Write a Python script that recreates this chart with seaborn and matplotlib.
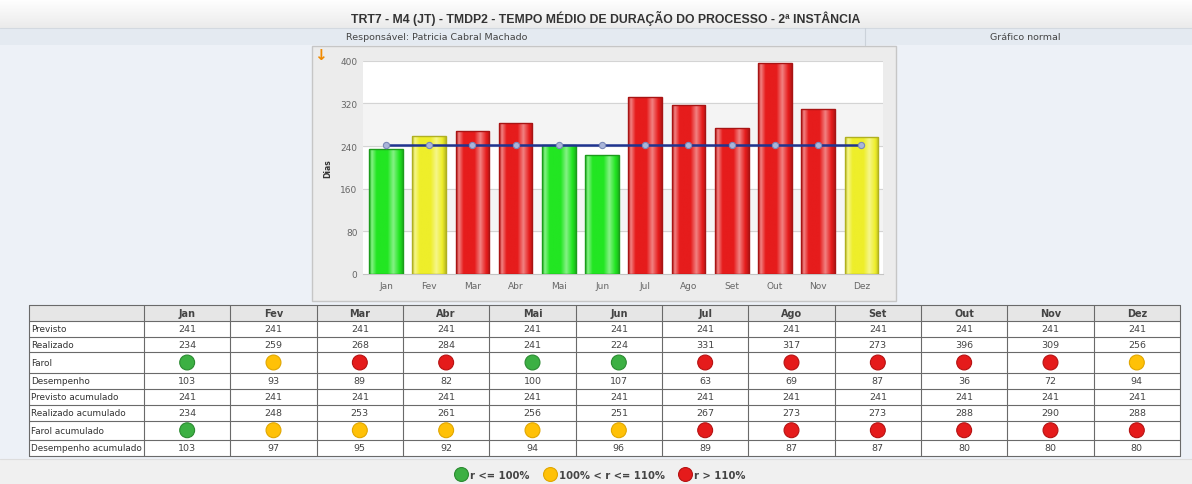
import numpy as np
import matplotlib
matplotlib.use("Agg")
import matplotlib.pyplot as plt
from matplotlib.colors import LinearSegmentedColormap, to_rgb
from matplotlib.patches import Rectangle
import seaborn as sns

meses = ["Jan", "Fev", "Mar", "Abr", "Mai", "Jun", "Jul", "Ago", "Set", "Out", "Nov", "Dez"]
previsto = [241, 241, 241, 241, 241, 241, 241, 241, 241, 241, 241, 241]
realizado = [234, 259, 268, 284, 241, 224, 331, 317, 273, 396, 309, 256]
farol = ["G", "Y", "R", "R", "G", "G", "R", "R", "R", "R", "R", "Y"]
desempenho = [103, 93, 89, 82, 100, 107, 63, 69, 87, 36, 72, 94]
previsto_acum = [241, 241, 241, 241, 241, 241, 241, 241, 241, 241, 241, 241]
realizado_acum = [234, 248, 253, 261, 256, 251, 267, 273, 273, 288, 290, 288]
farol_acum = ["G", "Y", "Y", "Y", "Y", "Y", "R", "R", "R", "R", "R", "R"]
desempenho_acum = [103, 97, 95, 92, 94, 96, 89, 87, 87, 80, 80, 80]
y_ticks = [0, 80, 160, 240, 320, 400]

titulo = "TRT7 - M4 (JT) - TMDP2 - TEMPO MÉDIO DE DURAÇÃO DO PROCESSO - 2ª INSTÂNCIA"
responsavel = "Responsável: Patricia Cabral Machado"
tipo_grafico = "Gráfico normal"
legenda = [("G", "r <= 100%"), ("Y", "100% < r <= 110%"), ("R", "r > 110%")]

bar_cores = {"G": "#22e622", "Y": "#eeee2a", "R": "#e61c1c"}
bar_bordas = {"G": "#1c9c1c", "Y": "#b0b020", "R": "#a81414"}
farol_cores = {"G": "#3cb043", "Y": "#ffc107", "R": "#e51b1b"}
farol_bordas = {"G": "#2b8a31", "Y": "#e0a600", "R": "#b51212"}

sns.set_style("white")
plt.rcParams["font.family"] = ["DejaVu Sans"]

W, H = 1192, 485
fig = plt.figure(figsize=(W / 100, H / 100), dpi=100)


def box(x0, y0, x1, y1):
    return [x0 / W, 1 - y1 / H, (x1 - x0) / W, (y1 - y0) / H]


# fundo da pagina
bg = fig.add_axes([0, 0, 1, 1])
bg.set_xlim(0, W)
bg.set_ylim(H, 0)
bg.axis("off")
grad = np.linspace(0, 1, 50).reshape(-1, 1)
bg.imshow(grad, extent=(0, W, 29, 0), cmap=LinearSegmentedColormap.from_list("t", ["#ffffff", "#ebebeb"]),
          aspect="auto", zorder=0)
bg.add_patch(Rectangle((0, 29), W, 17, fc="#e4eaf1", ec="none", zorder=1))
bg.plot([0, W], [29, 29], color="#d3d9e0", lw=0.8, zorder=2)
bg.plot([865, 865], [29, 46], color="#cbd2da", lw=0.8, zorder=2)
bg.add_patch(Rectangle((0, 46), W, 414, fc="#edf1f7", ec="none", zorder=1))
bg.add_patch(Rectangle((0, 460), W, 25, fc="#f0f0f0", ec="none", zorder=1))
bg.plot([0, W], [460, 460], color="#dddddd", lw=0.8, zorder=2)
bg.add_patch(Rectangle((312, 47), 584, 255, fc="#ececec", ec="#c6c6c6", lw=1, zorder=2))

bg.text(606, 18, titulo, ha="center", va="center", fontsize=8.8, fontweight="bold", color="#333333",
        family="Liberation Sans", zorder=3)
bg.text(437, 38, responsavel, ha="center", va="center", fontsize=6.8, color="#444444", zorder=3)
bg.text(1025, 38, tipo_grafico, ha="center", va="center", fontsize=6.8, color="#444444", zorder=3)
bg.text(320, 56, "↓", ha="center", va="center", fontsize=11, fontweight="bold", color="#f08a00", zorder=3)

# grafico de barras
ax = fig.add_axes(box(363, 61.7, 883, 275))
sns.barplot(x=meses, y=realizado, hue=meses, palette=[bar_cores[f] for f in farol], legend=False,
            width=0.78, ax=ax, zorder=3)
for patch, f in zip(ax.patches, farol):
    base = np.array(to_rgb(bar_cores[f]))
    claro = base + (1 - base) * 0.45
    escuro = base * 0.8
    cmap = LinearSegmentedColormap.from_list(
        "b", [(0, escuro), (0.08, claro), (0.22, base), (0.55, base), (0.72, claro), (0.9, base), (1, escuro)])
    x, w, h = patch.get_x(), patch.get_width(), patch.get_height()
    im = ax.imshow(np.linspace(0, 1, 64).reshape(1, -1), cmap=cmap, extent=(x, x + w, 0, h),
                   aspect="auto", zorder=3)
    im.set_clip_path(patch)
    patch.set_edgecolor(bar_bordas[f])
    patch.set_linewidth(1)
    patch.set_zorder(4)
    patch.set_facecolor("none")

sns.lineplot(x=np.arange(len(meses)), y=previsto, color="#1f3490", lw=1.8, marker="o", markersize=4.5,
             markerfacecolor="#a9b5d9", markeredgecolor="#7a88b8", markeredgewidth=0.8, ax=ax, zorder=5)

ax.set_xlim(-0.53, 11.5)
ax.set_ylim(0, 400)
ax.set_facecolor("white")
for i, (a, b) in enumerate(zip(y_ticks[:-1], y_ticks[1:])):
    if i % 2 == 1:
        ax.axhspan(a, b, color="#f4f4f4", zorder=0)
for t in y_ticks[1:]:
    ax.axhline(t, color="#d4d4d4", lw=0.8, zorder=1)
ax.set_yticks(y_ticks)
ax.tick_params(axis="both", length=0, labelsize=6.5, labelcolor="#666666")
ax.tick_params(axis="x", pad=5)
ax.tick_params(axis="y", pad=4)
for s in ["top", "right", "left"]:
    ax.spines[s].set_visible(False)
ax.spines["bottom"].set_color("#c4c4c4")
ax.set_xlabel("")
ax.set_ylabel("Dias", fontsize=5.5, fontweight="bold", color="#333333")
ax.yaxis.set_label_coords(-0.06, 0.5)

# tabela
tx0, tx1 = 29, 1180
c0 = 144
cw = (tx1 - c0) / len(meses)
linhas_y = [306, 321.5, 337.5, 353, 374, 390, 406, 421.5, 441, 456.5]
ta = fig.add_axes(box(tx0, linhas_y[0], tx1, linhas_y[-1]))
ta.set_xlim(tx0, tx1)
ta.set_ylim(linhas_y[-1], linhas_y[0])
ta.axis("off")
ta.add_patch(Rectangle((tx0, linhas_y[-1]), tx1 - tx0, linhas_y[0] - linhas_y[-1], fc="white", ec="none", zorder=0))
ta.add_patch(Rectangle((tx0, linhas_y[0]), tx1 - tx0, linhas_y[1] - linhas_y[0], fc="#e6e6e6", ec="none", zorder=1))
for y in linhas_y:
    ta.plot([tx0, tx1], [y, y], color="#6a6a6a", lw=0.8, zorder=2, clip_on=False)
xs_linhas = [tx0, c0] + [c0 + cw * (i + 1) for i in range(len(meses))]
for x in xs_linhas:
    ta.plot([x, x], [linhas_y[0], linhas_y[-1]], color="#6a6a6a", lw=0.8, zorder=2, clip_on=False)
centros = [c0 + cw * (i + 0.5) for i in range(len(meses))]
for cx, m in zip(centros, meses):
    ta.text(cx, (linhas_y[0] + linhas_y[1]) / 2, m, ha="center", va="center", fontsize=7,
            fontweight="bold", color="#444444")

linhas = [("Previsto", previsto), ("Realizado", realizado), ("Farol", farol), ("Desempenho", desempenho),
          ("Previsto acumulado", previsto_acum), ("Realizado acumulado", realizado_acum),
          ("Farol acumulado", farol_acum), ("Desempenho acumulado", desempenho_acum)]
for k, (nome, vals) in enumerate(linhas):
    yc = (linhas_y[k + 1] + linhas_y[k + 2]) / 2
    ta.text(tx0 + 2, yc, nome, ha="left", va="center", fontsize=6.4, color="#333333")
    if nome.startswith("Farol"):
        ta.scatter(centros, [yc] * len(vals), s=115, c=[farol_cores[v] for v in vals],
                   edgecolors=[farol_bordas[v] for v in vals], linewidths=0.8, zorder=3)
    else:
        for cx, v in zip(centros, vals):
            ta.text(cx, yc, str(v), ha="center", va="center", fontsize=6.8, color="#444444")

# legenda do farol
leg_x = [461, 550, 684.5]
for (k, txt), lx in zip(legenda, leg_x):
    bg.scatter([lx], [475], s=100, c=farol_cores[k], edgecolors=farol_bordas[k], linewidths=0.8, zorder=4)
    bg.text(lx + 9, 476, txt, ha="left", va="center", fontsize=7.2, fontweight="bold", color="#444444", zorder=4)

fig.savefig("out.png", dpi=100)
